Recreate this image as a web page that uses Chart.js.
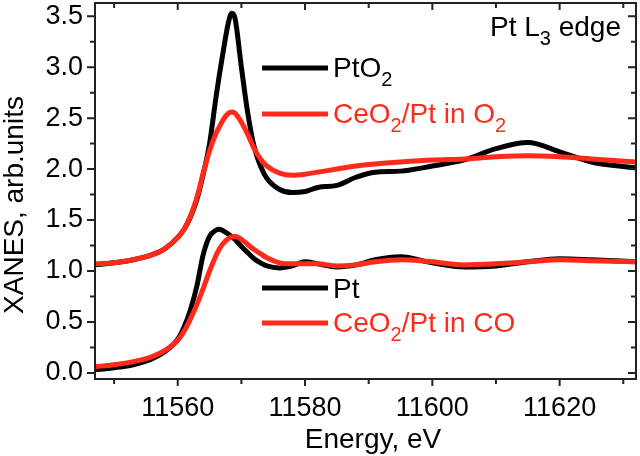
<!DOCTYPE html>
<html>
<head>
<meta charset="utf-8">
<script src="https://cdn.jsdelivr.net/npm/chart.js@4.4.1/dist/chart.umd.min.js"></script>
<style>
html, body { margin: 0; padding: 0; background: #fff; }
</style>
</head>
<body>
<canvas id="chart" width="640" height="456"></canvas>
<script>
// photon energy, eV (shared grid for all four spectra)
var energy = [11547, 11550, 11553, 11556, 11558, 11560, 11561, 11562, 11563, 11564,
              11565, 11566, 11566.5, 11567, 11568, 11568.5, 11569, 11570, 11571, 11572,
              11573, 11574, 11576, 11578, 11580, 11582, 11585, 11588, 11591, 11595,
              11600, 11605, 11610, 11615, 11620, 11625, 11632];

// normalised XANES, shifted spectra (upper pair offset by +1)
var ptO2 = [1.06, 1.08, 1.11, 1.16, 1.22, 1.33, 1.41, 1.53, 1.70, 1.95,
            2.25, 2.70, 2.91, 3.10, 3.45, 3.53, 3.48, 3.00, 2.55, 2.22,
            2.03, 1.91, 1.80, 1.77, 1.78, 1.82, 1.84, 1.92, 1.97, 1.98,
            2.03, 2.09, 2.20, 2.26, 2.17, 2.07, 2.01];
var ceO2PtInO2 = [1.07, 1.08, 1.11, 1.16, 1.22, 1.33, 1.41, 1.54, 1.72, 1.96,
                  2.18, 2.35, 2.41, 2.47, 2.55, 2.56, 2.55, 2.46, 2.34, 2.20,
                  2.10, 2.03, 1.96, 1.94, 1.95, 1.97, 2.00, 2.03, 2.05, 2.07,
                  2.09, 2.10, 2.12, 2.13, 2.12, 2.10, 2.07];
var pt = [0.03, 0.05, 0.08, 0.14, 0.21, 0.33, 0.45, 0.62, 0.85, 1.16,
          1.34, 1.40, 1.41, 1.40, 1.36, 1.335, 1.31, 1.24, 1.18, 1.12,
          1.08, 1.05, 1.03, 1.05, 1.09, 1.07, 1.04, 1.06, 1.11, 1.14,
          1.08, 1.04, 1.05, 1.09, 1.12, 1.11, 1.09];
var ceO2PtInCO = [0.06, 0.08, 0.11, 0.16, 0.22, 0.32, 0.41, 0.53, 0.67, 0.83,
                  1.00, 1.15, 1.21, 1.26, 1.32, 1.335, 1.34, 1.31, 1.26, 1.21,
                  1.17, 1.13, 1.08, 1.07, 1.07, 1.07, 1.05, 1.06, 1.09, 1.11,
                  1.09, 1.06, 1.07, 1.09, 1.11, 1.10, 1.09];

var xTicks = [11560, 11580, 11600, 11620];
var xMinorTicks = [11550, 11570, 11590, 11610, 11630];
var yTicks = [0, 0.5, 1, 1.5, 2, 2.5, 3, 3.5];
var yMinorTicks = [0.25, 0.75, 1.25, 1.75, 2.25, 2.75, 3.25];

var BLACK = '#000000';
var RED = '#ff2a1a';
var AXIS = '#222222';
var FONT = '"Liberation Sans", Arial, sans-serif';

function points(values) {
    return energy.map(function (e, i) {
        return { x: e, y: values[i] };
    });
}

function line(values, color, order) {
    return {
        data: points(values),
        borderColor: color,
        borderWidth: 5,
        pointRadius: 0,
        fill: false,
        cubicInterpolationMode: 'monotone',
        order: order
    };
}

// text with subscripts: parts = [[text, isSub], ...]
function richText(ctx, x, y, parts, color) {
    ctx.fillStyle = color;
    ctx.textAlign = 'left';
    ctx.textBaseline = 'alphabetic';
    parts.forEach(function (p) {
        ctx.font = (p[1] ? '20px ' : '28px ') + FONT;
        ctx.fillText(p[0], x, p[1] ? y + 9 : y);
        x += ctx.measureText(p[0]).width;
    });
}

var frameAndLegend = {
    id: 'frameAndLegend',
    afterDraw: function (chart) {
        var ctx = chart.ctx;
        var a = chart.chartArea;
        var xs = chart.scales.x, ys = chart.scales.y;
        ctx.save();
        ctx.strokeStyle = AXIS;
        ctx.lineWidth = 2;
        ctx.strokeRect(a.left, a.top, a.right - a.left, a.bottom - a.top);

        function xTick(v, len) {
            var px = xs.getPixelForValue(v);
            ctx.beginPath();
            ctx.moveTo(px, a.bottom); ctx.lineTo(px, a.bottom + len);
            ctx.moveTo(px, a.top); ctx.lineTo(px, a.top + len);
            ctx.stroke();
        }
        function yTick(v, len) {
            var py = ys.getPixelForValue(v);
            ctx.beginPath();
            ctx.moveTo(a.left, py); ctx.lineTo(a.left - len, py);
            ctx.moveTo(a.right, py); ctx.lineTo(a.right - len, py);
            ctx.stroke();
        }
        xTicks.forEach(function (v) { xTick(v, 7); });
        xMinorTicks.forEach(function (v) { xTick(v, 5); });
        yTicks.forEach(function (v) { yTick(v, 8); });
        yMinorTicks.forEach(function (v) { yTick(v, 5); });

        // axis titles
        ctx.fillStyle = BLACK;
        ctx.font = '28px ' + FONT;
        ctx.textAlign = 'center';
        ctx.textBaseline = 'alphabetic';
        ctx.fillText('Energy, eV', 373, 448);
        ctx.save();
        ctx.translate(23, 205);
        ctx.rotate(-Math.PI / 2);
        ctx.fillText('XANES, arb.units', 0, 0);
        ctx.restore();

        // legend
        ctx.lineWidth = 5;
        [[68, BLACK], [114, RED], [288, BLACK], [323, RED]].forEach(function (l) {
            ctx.strokeStyle = l[1];
            ctx.beginPath();
            ctx.moveTo(262, l[0]); ctx.lineTo(328, l[0]);
            ctx.stroke();
        });
        richText(ctx, 333, 77, [['PtO', false], ['2', true]], BLACK);
        richText(ctx, 333, 123, [['CeO', false], ['2', true], ['/Pt in O', false], ['2', true]], RED);
        richText(ctx, 333, 298, [['Pt', false]], BLACK);
        richText(ctx, 333, 332, [['CeO', false], ['2', true], ['/Pt in CO', false]], RED);
        richText(ctx, 490, 36, [['Pt L', false], ['3', true], [' edge', false]], BLACK);
        ctx.restore();
    }
};

var config = {
    type: 'line',
    data: {
        datasets: [
            line(ptO2, BLACK, 1),
            line(ceO2PtInO2, RED, 0),
            line(pt, BLACK, 1),
            line(ceO2PtInCO, RED, 0)
        ]
    },
    options: {
        responsive: false,
        animation: false,
        layout: { padding: { top: 3, right: 4, left: 0, bottom: 0 } },
        plugins: { legend: { display: false }, tooltip: { enabled: false } },
        scales: {
            x: {
                type: 'linear',
                min: 11547,
                max: 11632,
                afterBuildTicks: function (s) { s.ticks = xTicks.map(function (v) { return { value: v }; }); },
                afterFit: function (s) { s.height = 77; s.paddingLeft = 0; s.paddingRight = 0; },
                grid: { display: false, drawTicks: false },
                border: { display: false },
                ticks: {
                    color: BLACK,
                    font: { family: FONT, size: 27 },
                    padding: 13,
                    maxRotation: 0,
                    callback: function (v) { return String(v); }
                }
            },
            y: {
                type: 'linear',
                min: -0.06,
                max: 3.63,
                afterBuildTicks: function (s) { s.ticks = yTicks.map(function (v) { return { value: v }; }); },
                afterFit: function (s) { s.width = 95; s.paddingTop = 0; s.paddingBottom = 0; },
                grid: { display: false, drawTicks: false },
                border: { display: false },
                ticks: {
                    color: BLACK,
                    font: { family: FONT, size: 27 },
                    padding: 12,
                    callback: function (v) { return v.toFixed(1); }
                }
            }
        }
    },
    plugins: [frameAndLegend]
};

var ctx = document.getElementById('chart').getContext('2d');
window.myChart = new Chart(ctx, config);
</script>
</body>
</html>
